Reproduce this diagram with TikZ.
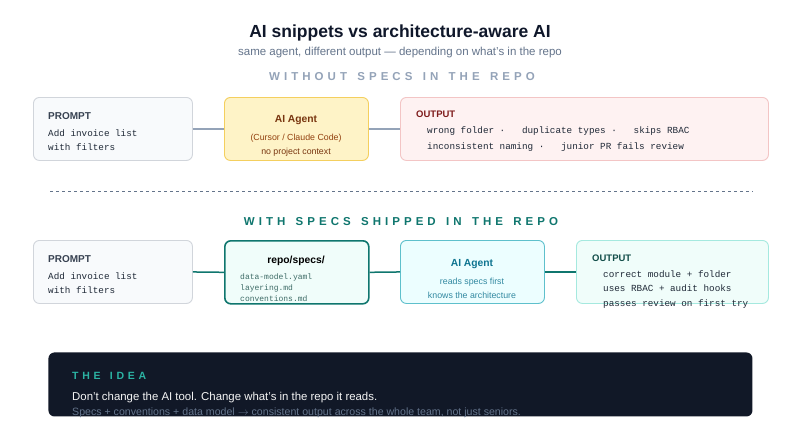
\documentclass[tikz,border=0pt]{standalone}
\usepackage{fontspec}
\setmainfont{Liberation Sans}
\setsansfont{Liberation Sans}
\setmonofont{Liberation Mono}
\usepackage{tikz}
\usetikzlibrary{positioning}

\definecolor{titlec}{HTML}{0F172A}
\definecolor{subc}{HTML}{64748B}
\definecolor{sectc}{HTML}{94A3B8}
\definecolor{tealc}{HTML}{0F766E}
\definecolor{promptfill}{HTML}{F8FAFC}
\definecolor{promptdraw}{HTML}{D1D5DB}
\definecolor{promptc}{HTML}{374151}
\definecolor{agentfill}{HTML}{FEF3C7}
\definecolor{agentdraw}{HTML}{F4CF5E}
\definecolor{agentc}{HTML}{78350F}
\definecolor{agentsub}{HTML}{92400E}
\definecolor{outfill}{HTML}{FEF2F2}
\definecolor{outdraw}{HTML}{F3C5C5}
\definecolor{outc}{HTML}{7F1D1D}
\definecolor{specfill}{HTML}{F0FDFA}
\definecolor{specc}{HTML}{3D6B66}
\definecolor{agenttfill}{HTML}{ECFEFF}
\definecolor{agenttdraw}{HTML}{5EC0CC}
\definecolor{agenttc}{HTML}{0E7490}
\definecolor{outtdraw}{HTML}{A5E9DF}
\definecolor{outtc}{HTML}{134E4A}
\definecolor{codec}{HTML}{1F2937}
\definecolor{darkc}{HTML}{111827}
\definecolor{ideac}{HTML}{2BB3A3}
\definecolor{linegray}{HTML}{94A3B8}

\newcommand{\fs}[1]{\fontsize{#1}{#1}\selectfont}
\newcommand{\spaced}[1]{{\addfontfeature{LetterSpace=35}\spaceskip=0.9em#1}}

\tikzstyle{card} = [rounded corners=6pt, line width=0.9pt, anchor=north west, inner sep=0pt]
\tikzstyle{head} = [anchor=base west, inner sep=0pt, font=\bfseries\fs{10}]
\tikzstyle{code} = [anchor=base west, inner sep=0pt, font=\ttfamily\fs{9.3}, text=codec]
\tikzset{
  link/.style ={draw, line width=1.5pt},
  mid/.style ={anchor=base, inner sep=0pt}
}

\begin{document}
\begin{tikzpicture}[x=1pt,y=-1pt]
	\useasboundingbox (0,0) rectangle (800,432);
	\fill[white] (0,0) rectangle (800,432);
	% titles
	\node[mid, font=\bfseries\fs{17.5}, text=titlec] (title) at (400,37) {AI snippets vs architecture-aware AI};
	\node[mid, font=\fs{11.5}, text=subc] (subtitle) at (400,55) {same agent, different output --- depending on what's in the repo};
	\node[mid, font=\bfseries\fs{11.5}, text=sectc] (without) at (402,80.5) {\spaced{WITHOUT SPECS IN THE REPO}};

	% row without specs
	\node[card, draw=promptdraw, fill=promptfill, minimum width=159pt, minimum height=63pt] (prompta) at (33,97) {};
	\node[head, text=promptc] at (48,119) {PROMPT};
	\node[code] at (48,136) {Add invoice list};
	\node[code] at (48,150) {with filters};

	\node[card, draw=agentdraw, fill=agentfill, minimum width=144pt, minimum height=63pt] (agenta) at (224,97) {};
	\node[mid, font=\bfseries\fs{10.3}, text=agentc] at (296,122) {AI Agent};
	\node[mid, font=\fs{8.8}, text=agentsub] at (296,140) {(Cursor / Claude Code)};
	\node[mid, font=\fs{8.8}, text=agentc] at (296,154) {no project context};

	\node[card, draw=outdraw, fill=outfill, minimum width=368pt, minimum height=63pt] (outa) at (400,97) {};
	\node[head, font=\bfseries\fs{9.5}, text=outc] at (416,117) {OUTPUT};
	\node[code] at (427,133) {wrong folder ·~~~duplicate types ·~~~skips RBAC};
	\node[code] at (427,149) {inconsistent naming ·~~~junior PR fails review};

	\draw[link, draw=linegray] (prompta.east) -- (agenta.west);
	\draw[link, draw=linegray] (agenta.east) -- (outa.west);

	\draw[dashed, draw=subc, line width=0.6pt] (50,191) -- (753,191);

	\node[mid, font=\bfseries\fs{11.5}, text=tealc] (with) at (401,225) {\spaced{WITH SPECS SHIPPED IN THE REPO}};

	% row with specs
	\node[card, draw=promptdraw, fill=promptfill, minimum width=159pt, minimum height=63pt] (promptb) at (33,240) {};
	\node[head, text=promptc] at (48,262) {PROMPT};
	\node[code] at (48,279) {Add invoice list};
	\node[code] at (48,293) {with filters};

	\node[card, draw=tealc, fill=specfill, line width=1.6pt, minimum width=144pt, minimum height=63pt] (specs) at (224,240) {};
	\node[mid, font=\bfseries\fs{10.3}, text=black] at (296,263) {repo/specs/};
	\node[code, font=\ttfamily\fs{8}, text=specc] at (240,279) {data-model.yaml};
	\node[code, font=\ttfamily\fs{8}, text=specc] at (240,290) {layering.md};
	\node[code, font=\ttfamily\fs{8}, text=specc] at (240,301) {conventions.md};

	\node[card, draw=agenttdraw, fill=agenttfill, minimum width=144pt, minimum height=63pt] (agentb) at (400,240) {};
	\node[mid, font=\bfseries\fs{10.3}, text=agenttc] at (472,266) {AI Agent};
	\node[mid, font=\fs{8.8}, text=agenttc!85] at (472,284) {reads specs first};
	\node[mid, font=\fs{8.8}, text=agenttc!85] at (472,298) {knows the architecture};

	\node[card, draw=outtdraw, fill=specfill, minimum width=192pt, minimum height=63pt] (outb) at (576,240) {};
	\node[head, font=\bfseries\fs{9.5}, text=outtc] at (592,261) {OUTPUT};
	\node[code] at (603,277) {correct module + folder};
	\node[code] at (603,291) {uses RBAC + audit hooks};
	\node[code] at (603,306) {passes review on first try};

	\draw[link, draw=tealc] (promptb.east) -- (specs.west);
	\draw[link, draw=tealc] (specs.east) -- (agentb.west);
	\draw[link, draw=tealc] (agentb.east) -- (outb.west);

	% the idea
	\node[card, fill=darkc, draw=none, minimum width=704pt, minimum height=64pt] (idea) at (48,352) {};
	\node[head, font=\bfseries\fs{10.5}, text=ideac] at (72,379) {\spaced{THE IDEA}};
	\node[anchor=base west, inner sep=0pt, font=\fs{11.4}, text=white!92!gray] at (72,400) {Don't change the AI tool. Change what's in the repo it reads.};
	\node[anchor=base west, inner sep=0pt, font=\fs{10.6}, text=subc] at (72,415) {Specs + conventions + data model \(\rightarrow\) consistent output across the whole team, not just seniors.};
\end{tikzpicture}
\end{document}
